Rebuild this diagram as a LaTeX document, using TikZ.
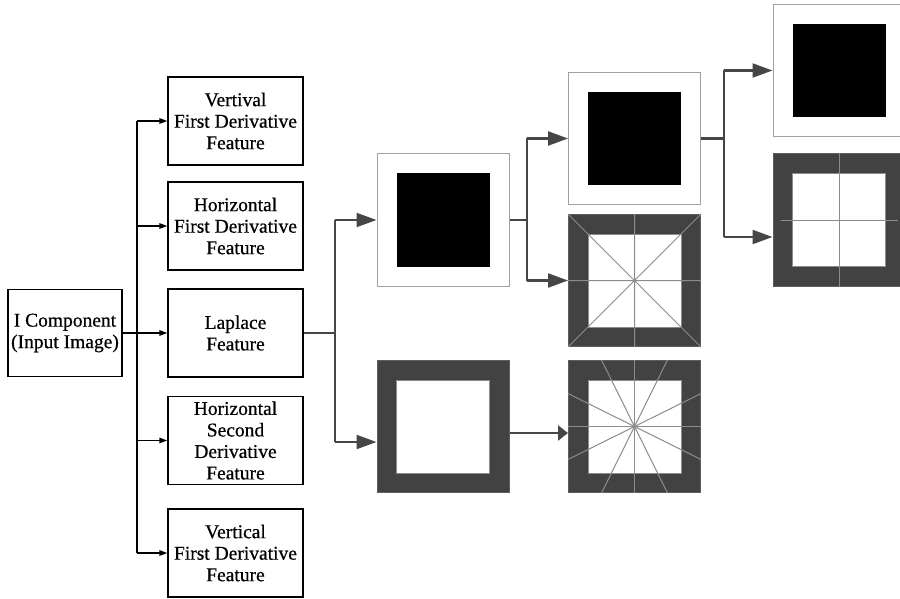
\documentclass[tikz,border=0pt]{standalone}
\usepackage{fontspec}
\setmainfont[FakeBold=0.6]{Liberation Serif}
\usetikzlibrary{arrows.meta,positioning,calc}
\definecolor{framegray}{HTML}{424242}
\definecolor{rulegray}{HTML}{8C8C8C}
\definecolor{edgegray}{HTML}{A0A0A0}
\definecolor{flowgray}{HTML}{464646}

\begin{document}
\begin{tikzpicture}[x=1pt,y=-1pt,
  box/.style={draw,line width=1.4pt,inner sep=0pt,align=center,
    font=\fontsize{19.5}{21.5}\selectfont},
  feat/.style={box,minimum width=135pt,minimum height=88pt},
  tap/.style={line width=1.4pt,-{Triangle[length=8pt,width=5.5pt]}},
  flowline/.style={draw=flowgray,line width=2.2pt},
  flow/.style={flowline,-{Triangle[length=20pt,width=14pt]}},
  img/.style={minimum size=132pt,inner sep=0pt},
  lightimg/.style={img,draw=edgegray,line width=1pt},
  darkimg/.style={img,fill=framegray,draw=framegray!85!white,line width=1pt},
  ray/.style={rulegray,line width=1pt}]
\useasboundingbox (0,0) rectangle (900,599);

% source and feature maps
\node[box,minimum width=114pt,minimum height=87pt] (src) at (65,333)
  {I Component\\(Input Image)};
\node[feat] (f1) at (235.5,121) {Vertival\\First Derivative\\Feature};
\node[feat] (f2) at (235.5,226) {Horizontal\\First Derivative\\Feature};
\node[feat] (f3) at (235.5,333) {Laplace\\Feature};
\node[feat] (f4) at (235.5,440.5) {Horizontal\\Second\\Derivative\\Feature};
\node[feat] (f5) at (235.5,553) {Vertical\\First Derivative\\Feature};

\coordinate (bus) at (137,0);
\draw[line width=1.4pt] (bus |- f1) -- (bus |- f5);
\draw[tap] (src) -- (f3);
\foreach \f in {f1,f2,f4,f5}
  \draw[tap] (bus |- \f) -- (\f);

% pattern tiles
\node[lightimg] (A) at (443,220) {};
\node[darkimg] (D) at (443,426.5) {};
\node[lightimg] (B) at (634.5,138.5) {};
\node[darkimg] (C) at (634.5,280.5) {};
\node[darkimg] (E) at (634.5,426.5) {};
\node[lightimg] (F) at (839,70.5) {};
\node[darkimg] (G) at (839,220) {};

\foreach \n in {A,B,F}
  \fill[black] ([shift={(-46.5,-46.5)}]\n.center) rectangle +(93,93);
\foreach \n in {C,D,E,G}
  \filldraw[fill=white,draw=rulegray,line width=1pt]
    ([shift={(-46.5,-46.5)}]\n.center) rectangle +(93,93);

\draw[ray] (C.north west) -- (C.south east) (C.north east) -- (C.south west)
  (C.north) -- (C.south) (C.west) -- (C.east);
\draw[ray] (E.north) -- (E.south) (E.west) -- (E.east);
\foreach \s in {-33,33}{
  \draw[ray] ([xshift=\s pt]E.north) -- ([xshift=-\s pt]E.south);
  \draw[ray] ([yshift=\s pt]E.west) -- ([yshift=-\s pt]E.east);
}
\draw[ray] (G.north) -- (G.south) ([xshift=8pt]G.west) -- ([xshift=-8pt]G.east);

% connectors between tiles
\coordinate (split1) at (335,0);
\coordinate (dIn) at ([yshift=-15.5pt]D.west);
\draw[flowline] (f3) -- (split1 |- f3);
\draw[flowline] (split1 |- A) -- (split1 |- dIn);
\draw[flow] (split1 |- A) -- (A);
\draw[flow] (split1 |- dIn) -- (dIn);

\coordinate (split2) at (527,0);
\draw[flowline] (A) -- (split2 |- A);
\draw[flowline] (split2 |- B) -- (split2 |- C);
\draw[flow] (split2 |- B) -- (B);
\draw[flow] (split2 |- C) -- (C);

\coordinate (dOut) at ([yshift=-6.5pt]D.east);
\draw[flowline,-{Triangle[length=10pt,width=15pt]}] (dOut) -- (dOut -| E.west);

\coordinate (split3) at (724,0);
\coordinate (gIn) at ([yshift=-17pt]G.west);
\draw[flowline] (B) -- (split3 |- B);
\draw[flowline] (split3 |- F) -- (split3 |- gIn);
\draw[flow] (split3 |- F) -- (F);
\draw[flow] (split3 |- gIn) -- (gIn);
\end{tikzpicture}
\end{document}
